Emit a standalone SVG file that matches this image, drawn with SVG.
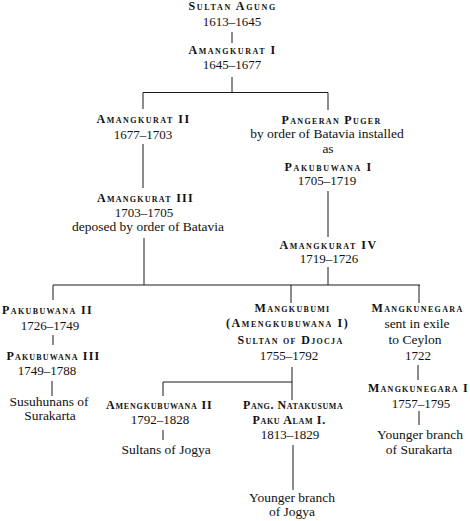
<svg xmlns="http://www.w3.org/2000/svg" width="470" height="521" viewBox="0 0 470 521" font-family="'Liberation Serif', 'Times New Roman', serif">
<style>
text{font-family:'Liberation Serif','Times New Roman',serif;fill:#111;text-anchor:middle}
.sc{font-size:12px;font-variant:small-caps;font-weight:bold;letter-spacing:0.3px}
.t{font-size:13.5px}
.n{font-size:13px}
.c line{stroke:#1a1a1a;stroke-width:1}
</style>
<rect width="470" height="521" fill="#fff"/>
<g class="c" id="connectors">
<line x1="232" y1="32" x2="232" y2="43"/>
<line x1="232" y1="77" x2="232" y2="92.5"/>
<line x1="143" y1="92.5" x2="328" y2="92.5"/>
<line x1="143" y1="92.5" x2="143" y2="109"/>
<line x1="328" y1="92.5" x2="328" y2="110"/>
<line x1="143" y1="144" x2="143" y2="188"/>
<line x1="144" y1="238" x2="144" y2="285"/>
<line x1="328" y1="191" x2="328" y2="237"/>
<line x1="328" y1="267" x2="328" y2="285"/>
<line x1="53" y1="285" x2="420" y2="285"/>
<line x1="53" y1="285" x2="53" y2="300"/>
<line x1="291" y1="285" x2="291" y2="303"/>
<line x1="419" y1="285" x2="419" y2="303"/>
<line x1="53" y1="335" x2="53" y2="345"/>
<line x1="52" y1="381" x2="52" y2="396"/>
<line x1="292" y1="367" x2="292" y2="400"/>
<line x1="163" y1="382" x2="292" y2="382"/>
<line x1="163" y1="382" x2="163" y2="396"/>
<line x1="163" y1="430" x2="163" y2="440"/>
<line x1="293" y1="445" x2="293" y2="490"/>
<line x1="418" y1="365" x2="418" y2="380"/>
<line x1="419" y1="411" x2="419" y2="425"/>
</g>
<g id="sultan-agung"><text class="sc" x="232" y="10" textLength="87" lengthAdjust="spacing">Sultan Agung</text><text class="t n" x="232" y="26">1613–1645</text></g>
<g id="amangkurat-1"><text class="sc" x="232" y="54" textLength="87" lengthAdjust="spacing">Amangkurat I</text><text class="t n" x="232" y="69">1645–1677</text></g>
<g id="amangkurat-2"><text class="sc" x="143" y="123" textLength="93" lengthAdjust="spacing">Amangkurat II</text><text class="t n" x="143" y="139">1677–1703</text></g>
<g id="amangkurat-3"><text class="sc" x="145" y="202" textLength="96" lengthAdjust="spacing">Amangkurat III</text><text class="t n" x="144" y="217">1703–1705</text><text class="t" x="148" y="231">deposed by order of Batavia</text></g>
<g id="pangeran-puger"><text class="sc" x="331" y="124" textLength="99" lengthAdjust="spacing">Pangeran Puger</text><text class="t" x="327" y="138">by order of Batavia installed</text><text class="t" x="328" y="153">as</text><text class="sc" x="328" y="171" textLength="87" lengthAdjust="spacing">Pakubuwana I</text><text class="t n" x="327" y="185">1705–1719</text></g>
<g id="amangkurat-4"><text class="sc" x="328" y="249" textLength="97" lengthAdjust="spacing">Amangkurat IV</text><text class="t n" x="329" y="263">1719–1726</text></g>
<g id="pakubuwana-2"><text class="sc" x="47" y="314" textLength="90" lengthAdjust="spacing">Pakubuwana II</text><text class="t n" x="50" y="330">1726–1749</text></g>
<g id="pakubuwana-3"><text class="sc" x="53" y="360" textLength="93" lengthAdjust="spacing">Pakubuwana III</text><text class="t n" x="47" y="375">1749–1788</text></g>
<g id="susuhunans"><text class="t" x="49" y="406">Susuhunans of</text><text class="t" x="50" y="420">Surakarta</text></g>
<g id="mangkubumi"><text class="sc" x="292" y="312" textLength="75" lengthAdjust="spacing">Mangkubumi</text><text class="sc" x="287" y="327" textLength="122" lengthAdjust="spacing">(Amengkubuwana I)</text><text class="sc" x="290" y="344" textLength="105" lengthAdjust="spacing">Sultan of Djocja</text><text class="t n" x="289" y="360">1755–1792</text></g>
<g id="amengkubuwana-2"><text class="sc" x="159" y="409" textLength="106" lengthAdjust="spacing">Amengkubuwana II</text><text class="t n" x="160" y="424">1792–1828</text></g>
<g id="sultans-jogya"><text class="t" x="166" y="454">Sultans of Jogya</text></g>
<g id="natakusuma"><text class="sc" x="293" y="409" textLength="100" lengthAdjust="spacing">Pang. Natakusuma</text><text class="sc" x="289" y="424" textLength="73" lengthAdjust="spacing">Paku Alam I.</text><text class="t n" x="290" y="439">1813–1829</text></g>
<g id="younger-jogya"><text class="t" x="292" y="502">Younger branch</text><text class="t" x="292" y="516">of Jogya</text></g>
<g id="mangkunegara"><text class="sc" x="417" y="312" textLength="91" lengthAdjust="spacing">Mangkunegara</text><text class="t" x="417" y="328">sent in exile</text><text class="t" x="415" y="344">to Ceylon</text><text class="t n" x="418" y="360">1722</text></g>
<g id="mangkunegara-1"><text class="sc" x="418" y="392" textLength="100" lengthAdjust="spacing">Mangkunegara I</text><text class="t n" x="421" y="408">1757–1795</text></g>
<g id="younger-surakarta"><text class="t" x="420" y="439">Younger branch</text><text class="t" x="419" y="454">of Surakarta</text></g>
</svg>
